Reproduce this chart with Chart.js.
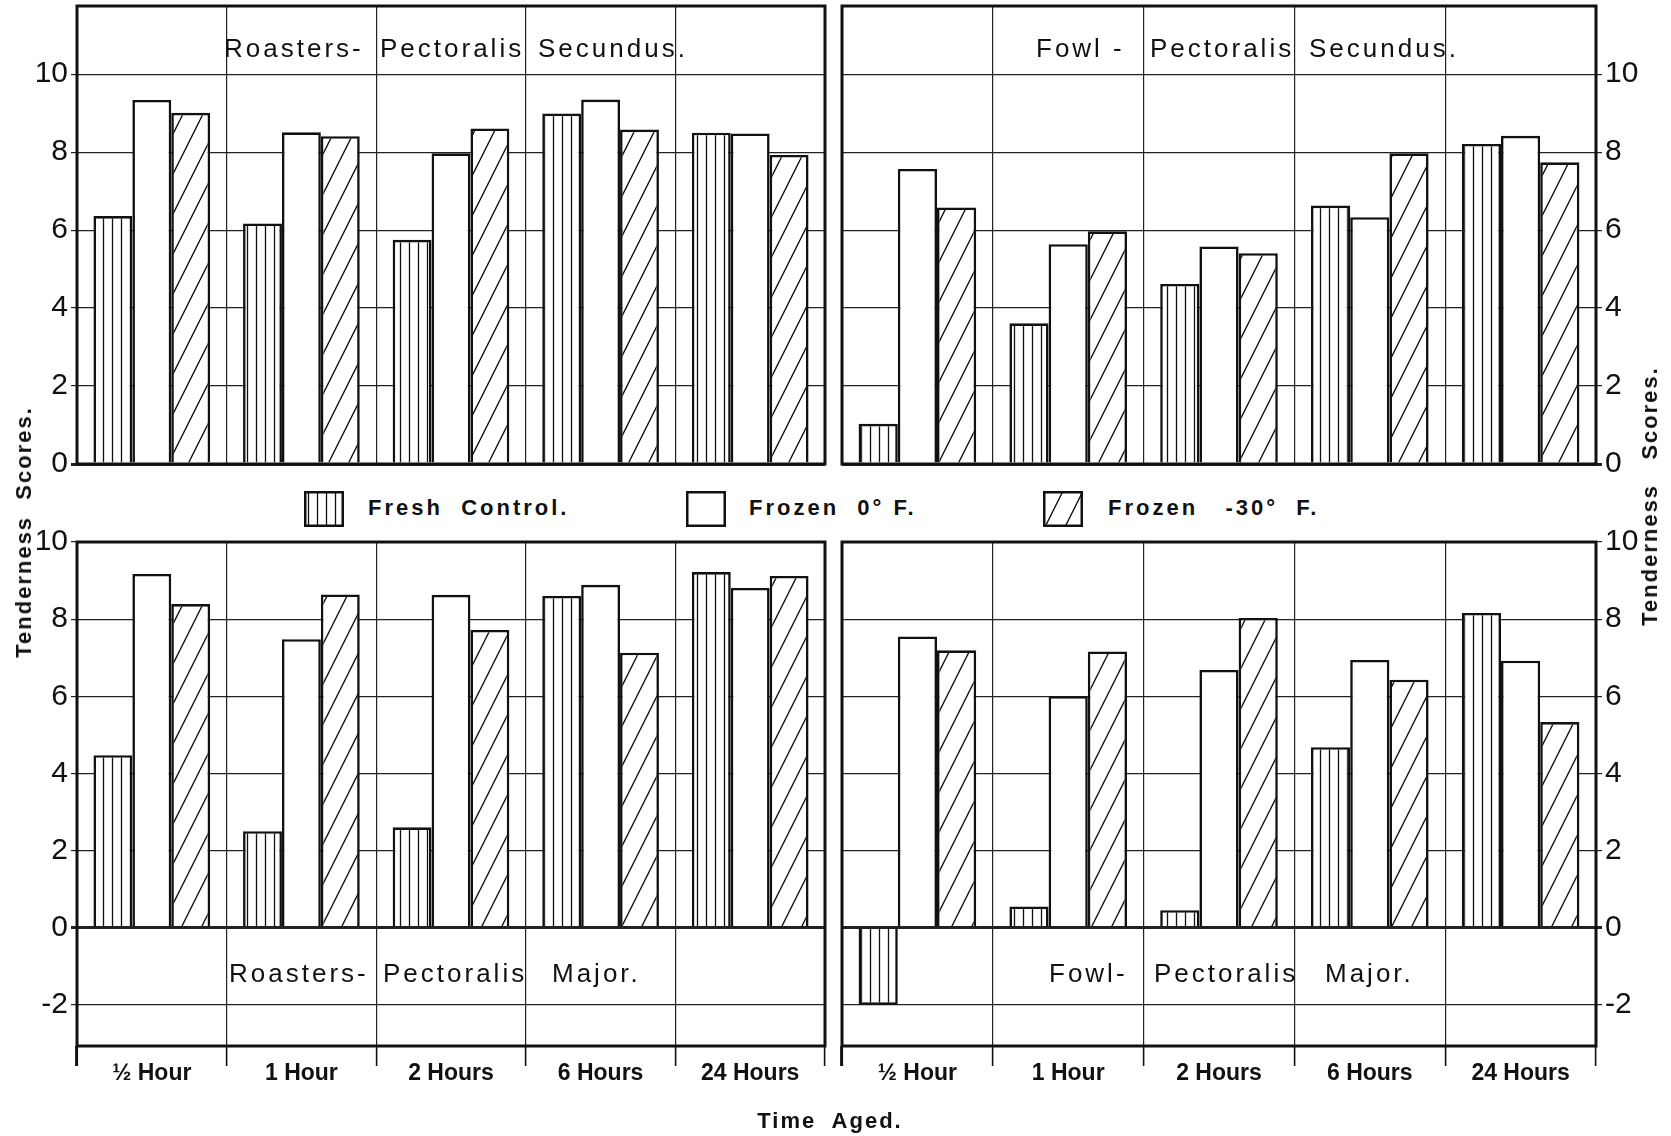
<!DOCTYPE html>
<html>
<head>
<meta charset="utf-8">
<title>Tenderness Scores - Time Aged</title>
<script src="https://cdn.jsdelivr.net/npm/chart.js@4.4.1/dist/chart.umd.min.js"></script>
<style>
  body { margin: 0; background: #fff; }
  #page { position: relative; width: 1671px; height: 1136px; overflow: hidden; background: #fff;
          font-family: "Liberation Sans", Arial, sans-serif; color: #111; }
  #page canvas.panel { position: absolute; }
  .t { position: absolute; white-space: pre; line-height: 1; }
  .title { font-size: 26px; letter-spacing: 3px; }
  .lg { font-size: 22px; font-weight: bold; letter-spacing: 3px; }
  .swatch { position: absolute; width: 40px; height: 36px; }
  .axis { font-size: 22px; font-weight: bold; letter-spacing: 2px; }
  .rot { transform: translate(-50%, -50%) rotate(-90deg); }
</style>
</head>
<body>
<div id="page">
  <canvas id="roastSec" class="panel" width="840" height="480" style="left:0;top:0"></canvas>
  <canvas id="fowlSec" class="panel" width="841" height="480" style="left:830px;top:0"></canvas>
  <canvas id="roastMaj" class="panel" width="840" height="606" style="left:0;top:530px"></canvas>
  <canvas id="fowlMaj" class="panel" width="841" height="606" style="left:830px;top:530px"></canvas>

  <!-- panel titles, one word per cell like the original lettering -->
  <div class="t title" style="left:224px;top:35px">Roasters-</div>
  <div class="t title" style="left:380px;top:35px">Pectoralis</div>
  <div class="t title" style="left:538px;top:35px">Secundus.</div>
  <div class="t title" style="left:1036px;top:35px">Fowl -</div>
  <div class="t title" style="left:1150px;top:35px">Pectoralis</div>
  <div class="t title" style="left:1309px;top:35px">Secundus.</div>
  <div class="t title" style="left:229px;top:960px">Roasters-</div>
  <div class="t title" style="left:383px;top:960px">Pectoralis</div>
  <div class="t title" style="left:552px;top:960px">Major.</div>
  <div class="t title" style="left:1049px;top:960px">Fowl-</div>
  <div class="t title" style="left:1154px;top:960px">Pectoralis</div>
  <div class="t title" style="left:1325px;top:960px">Major.</div>

  <!-- legend -->
  <canvas id="sw0" class="swatch" width="40" height="36" style="left:304px;top:491px"></canvas>
  <div id="lg0" class="t lg" style="left:368px;top:497px"></div>
  <canvas id="sw1" class="swatch" width="40" height="36" style="left:686px;top:491px"></canvas>
  <div id="lg1" class="t lg" style="left:749px;top:497px"></div>
  <canvas id="sw2" class="swatch" width="40" height="36" style="left:1043px;top:491px"></canvas>
  <div id="lg2" class="t lg" style="left:1108px;top:497px"></div>

  <!-- axis titles -->
  <div class="t axis rot" style="left:24px;top:532px">Tenderness  Scores.</div>
  <div class="t axis rot" style="left:1650px;top:496px">Tenderness   Scores.</div>
  <div class="t axis" style="left:830px;top:1110px;transform:translateX(-50%)">Time  Aged.</div>
</div>

<script>
// Categories, series and tick values
const categories = ['½ Hour', '1 Hour', '2 Hours', '6 Hours', '24 Hours'];
const seriesNames = ['Fresh  Control.', 'Frozen  0° F.', 'Frozen   -30°  F.'];
const topTicks = [0, 2, 4, 6, 8, 10];
const bottomTicks = [-2, 0, 2, 4, 6, 8, 10];
const topRange = [0, 11.75];
const bottomRange = [-3.07, 10];

// Roasters - Pectoralis Secundus
const roastSecFresh = [6.36, 6.17, 5.75, 8.99, 8.50];
const roastSecFrozen0 = [9.34, 8.51, 7.97, 9.35, 8.48];
const roastSecFrozen30 = [9.01, 8.41, 8.61, 8.58, 7.93];

// Fowl - Pectoralis Secundus
const fowlSecFresh = [1.03, 3.61, 4.62, 6.63, 8.21];
const fowlSecFrozen0 = [7.57, 5.64, 5.58, 6.33, 8.42];
const fowlSecFrozen30 = [6.58, 5.97, 5.41, 7.97, 7.74];

// Roasters - Pectoralis Major
const roastMajFresh = [4.47, 2.50, 2.60, 8.60, 9.22];
const roastMajFrozen0 = [9.17, 7.48, 8.63, 8.89, 8.81];
const roastMajFrozen30 = [8.39, 8.64, 7.72, 7.13, 9.12];

// Fowl - Pectoralis Major
const fowlMajFresh = [-2.0, 0.55, 0.45, 4.68, 8.16];
const fowlMajFrozen0 = [7.55, 6.00, 6.68, 6.94, 6.92];
const fowlMajFrozen30 = [7.19, 7.16, 8.03, 6.43, 5.33];

const INK = '#111';
const FONT = '"Liberation Sans", Arial, sans-serif';

function makeTile(kind) {
    const c = document.createElement('canvas');
    const ctx = c.getContext('2d');
    if (kind === 'vertical') {
        c.width = 9; c.height = 10;
        ctx.fillStyle = '#fff';
        ctx.fillRect(0, 0, 9, 10);
        ctx.strokeStyle = INK;
        ctx.lineWidth = 1.3;
        ctx.beginPath();
        ctx.moveTo(4.5, 0);
        ctx.lineTo(4.5, 10);
        ctx.stroke();
    } else {
        c.width = 20; c.height = 40;
        ctx.fillStyle = '#fff';
        ctx.fillRect(0, 0, 20, 40);
        ctx.strokeStyle = INK;
        ctx.lineWidth = 1.4;
        ctx.beginPath();
        [-20, 0, 20].forEach(dx => {
            ctx.moveTo(dx, 40);
            ctx.lineTo(dx + 20, 0);
        });
        ctx.stroke();
    }
    return c;
}

const verticalTile = makeTile('vertical');
const diagonalTile = makeTile('diagonal');
const verticalFill = verticalTile.getContext('2d').createPattern(verticalTile, 'repeat');
const diagonalFill = diagonalTile.getContext('2d').createPattern(diagonalTile, 'repeat');

// Thick frame round each plot area
const framePlugin = {
    id: 'frame',
    afterDraw(chart) {
        const { ctx, chartArea: a } = chart;
        ctx.save();
        ctx.strokeStyle = INK;
        ctx.lineWidth = 3;
        ctx.strokeRect(a.left, a.top, a.right - a.left, a.bottom - a.top);
        ctx.restore();
    }
};

function makePanel(canvasId, fresh, frozen0, frozen30, cfg) {
    return new Chart(document.getElementById(canvasId), {
        type: 'bar',
        data: {
            labels: categories,
            datasets: [
                { label: seriesNames[0], data: fresh, backgroundColor: verticalFill },
                { label: seriesNames[1], data: frozen0, backgroundColor: '#fff' },
                { label: seriesNames[2], data: frozen30, backgroundColor: diagonalFill }
            ]
        },
        options: {
            responsive: false,
            animation: false,
            devicePixelRatio: 1,
            layout: { padding: cfg.padding },
            datasets: {
                bar: {
                    borderColor: INK,
                    borderWidth: 2.6,
                    borderSkipped: 'start',
                    categoryPercentage: 0.78,
                    barPercentage: 1
                }
            },
            plugins: {
                legend: { display: false },
                tooltip: { enabled: false }
            },
            scales: {
                x: {
                    z: 1,
                    border: { display: false },
                    grid: {
                        offset: true,
                        color: '#222',
                        lineWidth: 1.2,
                        drawTicks: cfg.showX,
                        tickLength: 20,
                        tickColor: INK,
                        tickWidth: ctx => (ctx.index === 0 || ctx.index === categories.length) ? 3 : 1.6
                    },
                    ticks: {
                        display: cfg.showX,
                        color: INK,
                        maxRotation: 0,
                        autoSkip: false,
                        padding: -6,
                        font: { family: FONT, size: 23, weight: 'bold' }
                    },
                    afterFit: s => { s.height = cfg.xHeight; s.paddingLeft = 0; s.paddingRight = 0; }
                },
                y: {
                    z: 1,
                    position: cfg.side,
                    min: cfg.range[0],
                    max: cfg.range[1],
                    afterBuildTicks: s => { s.ticks = cfg.ticks.map(v => ({ value: v })); },
                    border: { display: false },
                    grid: {
                        color: '#222',
                        lineWidth: ctx => (ctx.tick && ctx.tick.value === 0) ? 3 : 1.2,
                        drawTicks: true,
                        tickLength: 6,
                        tickColor: '#222'
                    },
                    ticks: {
                        color: INK,
                        padding: 3,
                        font: { family: FONT, size: 30 }
                    },
                    afterFit: s => { s.width = cfg.yWidth; s.paddingTop = 0; s.paddingBottom = 0; }
                }
            }
        },
        plugins: [framePlugin]
    });
}

makePanel('roastSec', roastSecFresh, roastSecFrozen0, roastSecFrozen30, {
    side: 'left', range: topRange, ticks: topTicks, showX: false, xHeight: 0, yWidth: 77,
    padding: { left: 0, top: 6, right: 15, bottom: 16 }
});
makePanel('fowlSec', fowlSecFresh, fowlSecFrozen0, fowlSecFrozen30, {
    side: 'right', range: topRange, ticks: topTicks, showX: false, xHeight: 0, yWidth: 75,
    padding: { left: 12, top: 6, right: 0, bottom: 16 }
});
makePanel('roastMaj', roastMajFresh, roastMajFrozen0, roastMajFrozen30, {
    side: 'left', range: bottomRange, ticks: bottomTicks, showX: true, xHeight: 90, yWidth: 77,
    padding: { left: 0, top: 12, right: 15, bottom: 0 }
});
makePanel('fowlMaj', fowlMajFresh, fowlMajFrozen0, fowlMajFrozen30, {
    side: 'right', range: bottomRange, ticks: bottomTicks, showX: true, xHeight: 90, yWidth: 75,
    padding: { left: 12, top: 12, right: 0, bottom: 0 }
});

// Legend swatches and labels
[verticalTile, null, diagonalTile].forEach((tile, i) => {
    const sw = document.getElementById('sw' + i);
    const ctx = sw.getContext('2d');
    ctx.fillStyle = tile ? ctx.createPattern(tile, 'repeat') : '#fff';
    ctx.fillRect(0, 0, 40, 36);
    ctx.strokeStyle = INK;
    ctx.lineWidth = 2.5;
    ctx.strokeRect(1.25, 1.25, 37.5, 33.5);
    document.getElementById('lg' + i).textContent = seriesNames[i];
});
</script>
</body>
</html>
